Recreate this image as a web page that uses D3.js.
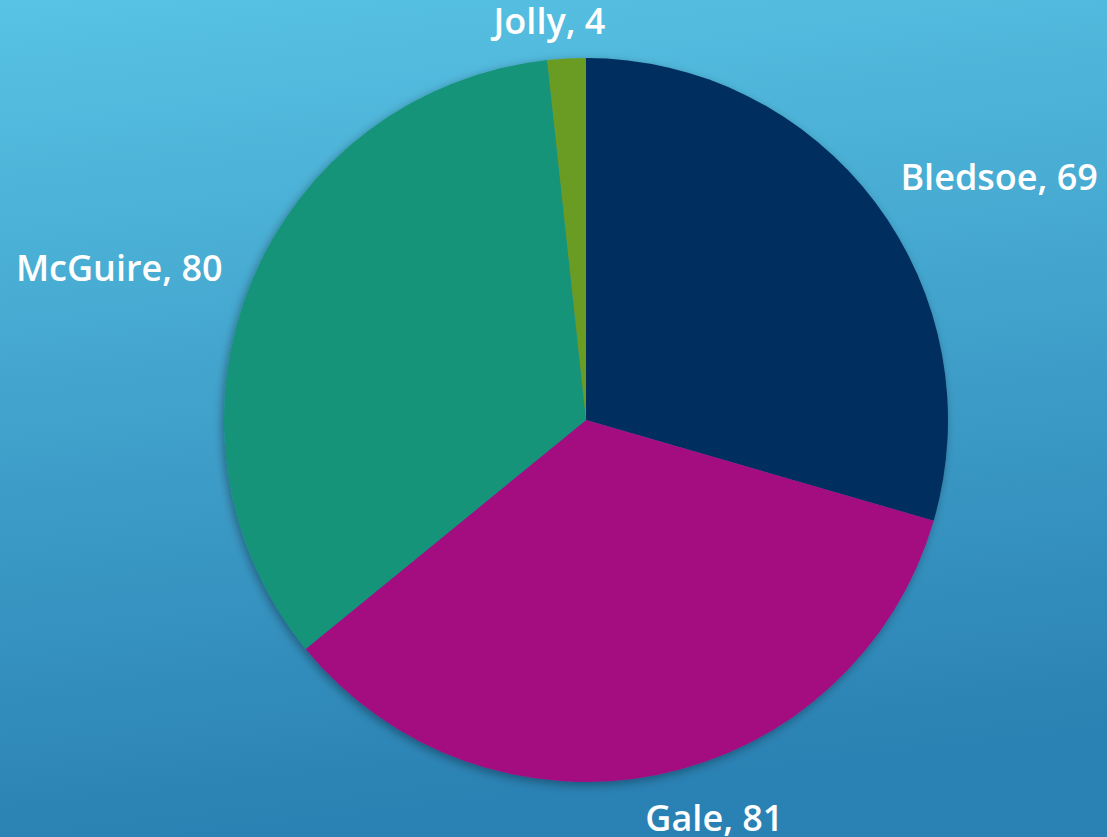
<!DOCTYPE html>
<html>
<head>
<meta charset="utf-8">
<script src="https://cdn.jsdelivr.net/npm/d3@7"></script>
<style>
  html, body { margin: 0; padding: 0; overflow: hidden; }
  svg { display: block; }
</style>
</head>
<body>
<svg id="chart" width="1107" height="837"></svg>
<script>
// ---- data ----
const categories = ["Bledsoe", "Gale", "McGuire", "Jolly"];
const values = [69, 81, 80, 4];

// ---- style ----
const colors = ["#052e5e", "#a30f80", "#16947a", "#6b9b20"];
const W = 1107, H = 837;
const cx = 586, cy = 420, radius = 362;
const labelPad = 20;
// per-label nudges (px) relative to outer anchor point
const labelStyle = {
  "Bledsoe": { anchor: "start", dx: 9, dy: -1 },
  "Gale":    { anchor: "middle", dx: 52, dy: 37 },
  "McGuire": { anchor: "end", dx: -10, dy: 6 },
  "Jolly":   { anchor: "middle", dx: -16, dy: -5 }
};

const svg = d3.select("#chart");
const defs = svg.append("defs");
const grad = defs.append("linearGradient").attr("id", "bg")
  .attr("x1", "0").attr("y1", "0").attr("x2", "0.15").attr("y2", "1");
grad.append("stop").attr("offset", "0%").attr("stop-color", "#58c3e4");
grad.append("stop").attr("offset", "100%").attr("stop-color", "#2a81b3");

const shadow = defs.append("filter").attr("id", "shadow")
  .attr("x", "-10%").attr("y", "-10%").attr("width", "120%").attr("height", "120%");
shadow.append("feDropShadow").attr("dx", -2).attr("dy", 3)
  .attr("stdDeviation", 5).attr("flood-color", "#000").attr("flood-opacity", 0.35);

svg.append("rect").attr("width", W).attr("height", H).attr("fill", "url(#bg)");

const data = categories.map((c, i) => ({ name: c, value: values[i], color: colors[i] }));
const pie = d3.pie().value(d => d.value).sort(null);
const arcs = pie(data);
const arc = d3.arc().innerRadius(0).outerRadius(radius);

const g = svg.append("g").attr("transform", `translate(${cx},${cy})`);
g.append("g").attr("filter", "url(#shadow)")
  .selectAll("path").data(arcs).join("path")
  .attr("d", arc)
  .attr("fill", d => d.data.color);

g.selectAll("text").data(arcs).join("text")
  .each(function(d) {
    const mid = (d.startAngle + d.endAngle) / 2;
    const R = radius + labelPad;
    const x = Math.sin(mid) * R, y = -Math.cos(mid) * R;
    const s = labelStyle[d.data.name];
    d3.select(this)
      .attr("x", x + s.dx).attr("y", y + s.dy)
      .attr("text-anchor", s.anchor);
  })
  .attr("fill", "#ffffff")
  .attr("font-family", "'Open Sans', Lato, sans-serif")
  .attr("font-weight", 600)
  .attr("font-size", 36)
  .text(d => `${d.data.name}, ${d.data.value}`);
</script>
</body>
</html>
